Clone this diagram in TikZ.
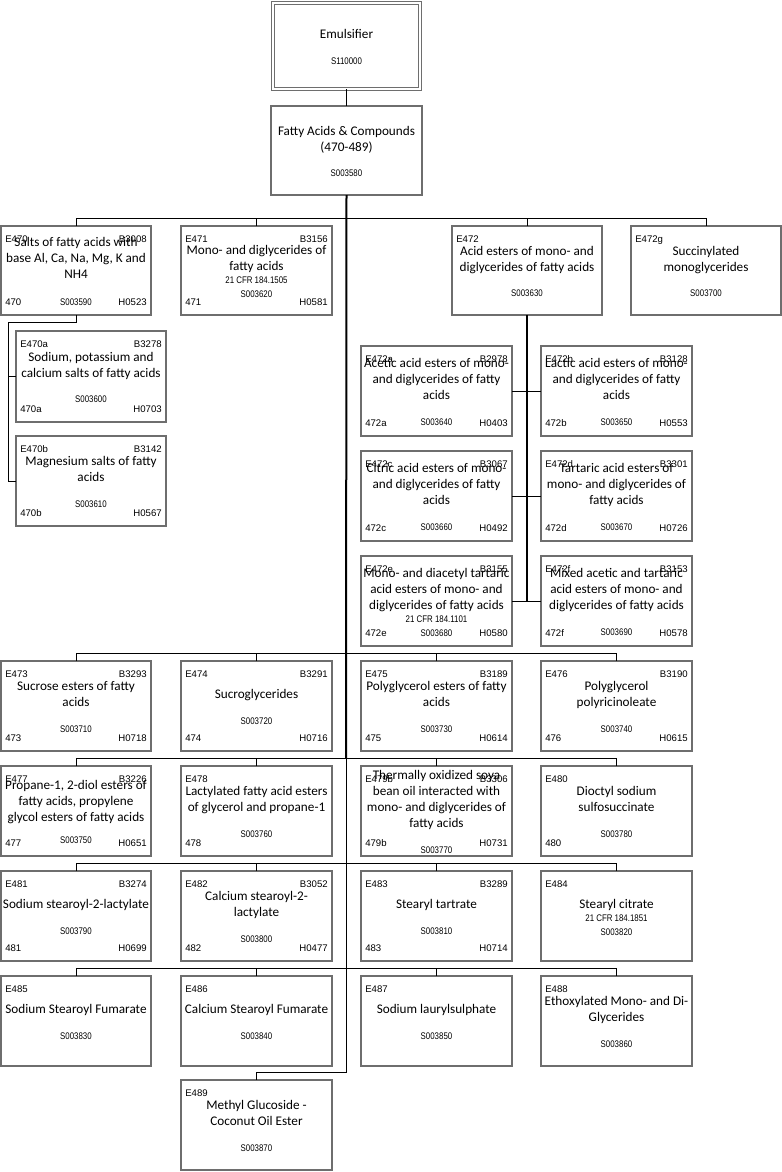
\documentclass[tikz,border=0pt]{standalone}
\usepackage{fontspec}
\setmainfont{Carlito}
\newfontfamily\arialf{Liberation Sans}
\usetikzlibrary{calc}
\definecolor{boxgray}{RGB}{110,110,110}
\tikzset{
  cellbox/.style={draw=boxgray, line width=1pt, inner sep=0pt, outer sep=0pt, fill=white},
  code/.style={font=\arialf\fontsize{7.2}{8}\selectfont, inner sep=0pt},
  midtext/.style={font=\fontsize{9.9}{12}\selectfont, align=center, inner sep=0pt},
  conn/.style={draw=black, line width=0.75pt},
  trunk/.style={draw=black, line width=1.5pt},
}
\newcommand\cellnode[5]{\node[cellbox, anchor=north west, minimum width={(#4-#2)*0.75pt}, minimum height={(#5-#3)*0.75pt}] (#1) at (#2,#3) {};}
\newcommand\codes[5]{%
  \node[code, anchor=base west] (#1E) at ($(#1.north west)+(4,16)$) {#2};
  \node[code, anchor=base east] (#1B) at ($(#1.north east)+(-4,16)$) {#3};
  \node[code, anchor=base west] (#1N) at ($(#1.south west)+(4,-10)$) {#4};
  \node[code, anchor=base east] (#1H) at ($(#1.south east)+(-4,-10)$) {#5};}
\newcommand\midtxt[2]{\node[midtext] (#1T) at ($(#1.center)+(0,1)$) {#2};}
\newcommand\scd[1]{{\arialf\fontsize{7.2}{8}\selectfont\scalebox{0.82}[1]{#1}}}
\begin{document}
\begin{tikzpicture}[x=0.75pt, y=-0.75pt]
\useasboundingbox (0,0) rectangle (782,1172);
% top
\node[draw=boxgray, double, double distance=1.6pt, line width=0.7pt, minimum width={147*0.75pt}, minimum height={86*0.75pt}, inner sep=0pt, outer sep=0pt] (emul) at (346.5,46) {};
\midtxt{emul}{Emulsifier\\[7pt]\scd{S110000}}
\cellnode{fatty}{271}{106}{422}{195}
\midtxt{fatty}{Fatty Acids \& Compounds\\(470-489)\\[7pt]\scd{S003580}}
% row 1
\cellnode{e470}{1}{226}{151}{315}
\codes{e470}{E470}{B3008}{470}{H0523}
\midtxt{e470}{Salts of fatty acids with\\base Al, Ca, Na, Mg, K and\\NH4\\[8pt]\scd{S003590}}
\cellnode{e471}{181}{226}{332}{315}
\codes{e471}{E471}{B3156}{471}{H0581}
\midtxt{e471}{Mono- and diglycerides of\\fatty acids\\[-2.25pt]\scd{21 CFR 184.1505}\\[-1.5pt]\scd{S003620}}
\cellnode{e472}{452}{226}{602}{315}
\codes{e472}{E472}{}{}{}
\midtxt{e472}{Acid esters of mono- and\\diglycerides of fatty acids\\[7pt]\scd{S003630}}
\cellnode{e472g}{631}{226}{781}{315}
\codes{e472g}{E472g}{}{}{}
\midtxt{e472g}{Succinylated\\monoglycerides\\[7pt]\scd{S003700}}
% E470 children
\cellnode{e470a}{16}{331}{166}{422}
\codes{e470a}{E470a}{B3278}{470a}{H0703}
\midtxt{e470a}{Sodium, potassium and\\calcium salts of fatty acids\\[7pt]\scd{S003600}}
\cellnode{e470b}{16}{436}{166}{526}
\codes{e470b}{E470b}{B3142}{470b}{H0567}
\midtxt{e470b}{Magnesium salts of fatty\\acids\\[7pt]\scd{S003610}}
% E472 children
\cellnode{e472a}{361}{346}{512}{436}
\codes{e472a}{E472a}{B2978}{472a}{H0403}
\midtxt{e472a}{Acetic acid esters of mono-\\and diglycerides of fatty\\acids\\[7pt]\scd{S003640}}
\cellnode{e472b}{541}{346}{692}{436}
\codes{e472b}{E472b}{B3128}{472b}{H0553}
\midtxt{e472b}{Lactic acid esters of mono-\\and diglycerides of fatty\\acids\\[7pt]\scd{S003650}}
\cellnode{e472c}{361}{451}{512}{541}
\codes{e472c}{E472c}{B3067}{472c}{H0492}
\midtxt{e472c}{Citric acid esters of mono-\\and diglycerides of fatty\\acids\\[7pt]\scd{S003660}}
\cellnode{e472d}{541}{451}{692}{541}
\codes{e472d}{E472d}{B3301}{472d}{H0726}
\midtxt{e472d}{Tartaric acid esters of\\mono- and diglycerides of\\fatty acids\\[7pt]\scd{S003670}}
\cellnode{e472e}{361}{556}{512}{646}
\codes{e472e}{E472e}{B3155}{472e}{H0580}
\midtxt{e472e}{Mono- and diacetyl tartaric\\acid esters of mono- and\\diglycerides of fatty acids\\[-2.25pt]\scd{21 CFR 184.1101}\\[-1.5pt]\scd{S003680}}
\cellnode{e472f}{541}{556}{692}{646}
\codes{e472f}{E472f}{B3153}{472f}{H0578}
\midtxt{e472f}{Mixed acetic and tartaric\\acid esters of mono- and\\diglycerides of fatty acids\\[7pt]\scd{S003690}}
% row 2
\cellnode{e473}{1}{661}{151}{751}
\codes{e473}{E473}{B3293}{473}{H0718}
\midtxt{e473}{Sucrose esters of fatty\\acids\\[7pt]\scd{S003710}}
\cellnode{e474}{181}{661}{332}{751}
\codes{e474}{E474}{B3291}{474}{H0716}
\midtxt{e474}{Sucroglycerides\\[7pt]\scd{S003720}}
\cellnode{e475}{361}{661}{512}{751}
\codes{e475}{E475}{B3189}{475}{H0614}
\midtxt{e475}{Polyglycerol esters of fatty\\acids\\[7pt]\scd{S003730}}
\cellnode{e476}{541}{661}{692}{751}
\codes{e476}{E476}{B3190}{476}{H0615}
\midtxt{e476}{Polyglycerol\\polyricinoleate\\[7pt]\scd{S003740}}
% row 3
\cellnode{e477}{1}{766}{151}{856}
\codes{e477}{E477}{B3226}{477}{H0651}
\midtxt{e477}{Propane-1, 2-diol esters of\\fatty acids, propylene\\glycol esters of fatty acids\\[5pt]\scd{S003750}}
\cellnode{e478}{181}{766}{332}{856}
\codes{e478}{E478}{}{478}{}
\midtxt{e478}{Lactylated fatty acid esters\\of glycerol and propane-1\\[7pt]\scd{S003760}}
\cellnode{e479b}{361}{766}{512}{856}
\codes{e479b}{E479b}{B3306}{479b}{H0731}
\midtxt{e479b}{Thermally oxidized soya\\bean oil interacted with\\mono- and diglycerides of\\fatty acids\\[7pt]\scd{S003770}}
\cellnode{e480}{541}{766}{692}{856}
\codes{e480}{E480}{}{480}{}
\midtxt{e480}{Dioctyl sodium\\sulfosuccinate\\[7pt]\scd{S003780}}
% row 4
\cellnode{e481}{1}{871}{151}{961}
\codes{e481}{E481}{B3274}{481}{H0699}
\midtxt{e481}{Sodium stearoyl-2-lactylate\\[7pt]\scd{S003790}}
\cellnode{e482}{181}{871}{332}{961}
\codes{e482}{E482}{B3052}{482}{H0477}
\midtxt{e482}{Calcium stearoyl-2-\\lactylate\\[7pt]\scd{S003800}}
\cellnode{e483}{361}{871}{512}{961}
\codes{e483}{E483}{B3289}{483}{H0714}
\midtxt{e483}{Stearyl tartrate\\[7pt]\scd{S003810}}
\cellnode{e484}{541}{871}{692}{961}
\codes{e484}{E484}{}{}{}
\midtxt{e484}{Stearyl citrate\\[-2.25pt]\scd{21 CFR 184.1851}\\[-1.5pt]\scd{S003820}}
% row 5
\cellnode{e485}{1}{976}{151}{1066}
\codes{e485}{E485}{}{}{}
\midtxt{e485}{Sodium Stearoyl Fumarate\\[7pt]\scd{S003830}}
\cellnode{e486}{181}{976}{332}{1066}
\codes{e486}{E486}{}{}{}
\midtxt{e486}{Calcium Stearoyl Fumarate\\[7pt]\scd{S003840}}
\cellnode{e487}{361}{976}{512}{1066}
\codes{e487}{E487}{}{}{}
\midtxt{e487}{Sodium laurylsulphate\\[7pt]\scd{S003850}}
\cellnode{e488}{541}{976}{692}{1066}
\codes{e488}{E488}{}{}{}
\midtxt{e488}{Ethoxylated Mono- and Di-\\Glycerides\\[7pt]\scd{S003860}}
% E489
\cellnode{e489}{181}{1080}{332}{1170}
\codes{e489}{E489}{}{}{}
\midtxt{e489}{Methyl Glucoside -\\Coconut Oil Ester\\[7pt]\scd{S003870}}
% junctions
\coordinate (j470) at (8,322);
\coordinate (tmid) at (346,758);
\coordinate (tend) at (346,1072);
% connectors
\draw[conn] (emul.south) -- (fatty.north);
\draw[trunk] (fatty.south) -- (tmid);
\draw[conn] (tmid) -- (tend) -| (e489.north);
\draw[conn] (e470.north) -- ++(0,-8) -| (e472g.north);
\draw[conn] (e471.north) -- ++(0,-8);
\draw[conn] (e472.north) -- ++(0,-8);
\draw[conn] (e470.south) |- (j470) |- (e470b.west);
\draw[conn] (j470 |- e470a.west) -- (e470a.west);
\draw[trunk] (e472.south) -- (e472.south |- e472e.east);
\draw[conn] (e472a.east) -- (e472b.west);
\draw[conn] (e472c.east) -- (e472d.west);
\draw[conn] (e472e.east) -- (e472f.west);
\foreach \a/\b/\c/\d in {e473/e474/e475/e476, e477/e478/e479b/e480, e481/e482/e483/e484, e485/e486/e487/e488}{
  \draw[conn] (\a.north) -- ++(0,-8) -| (\d.north);
  \draw[conn] (\b.north) -- ++(0,-8);
  \draw[conn] (\c.north) -- ++(0,-8);
}
\end{tikzpicture}
\end{document}
